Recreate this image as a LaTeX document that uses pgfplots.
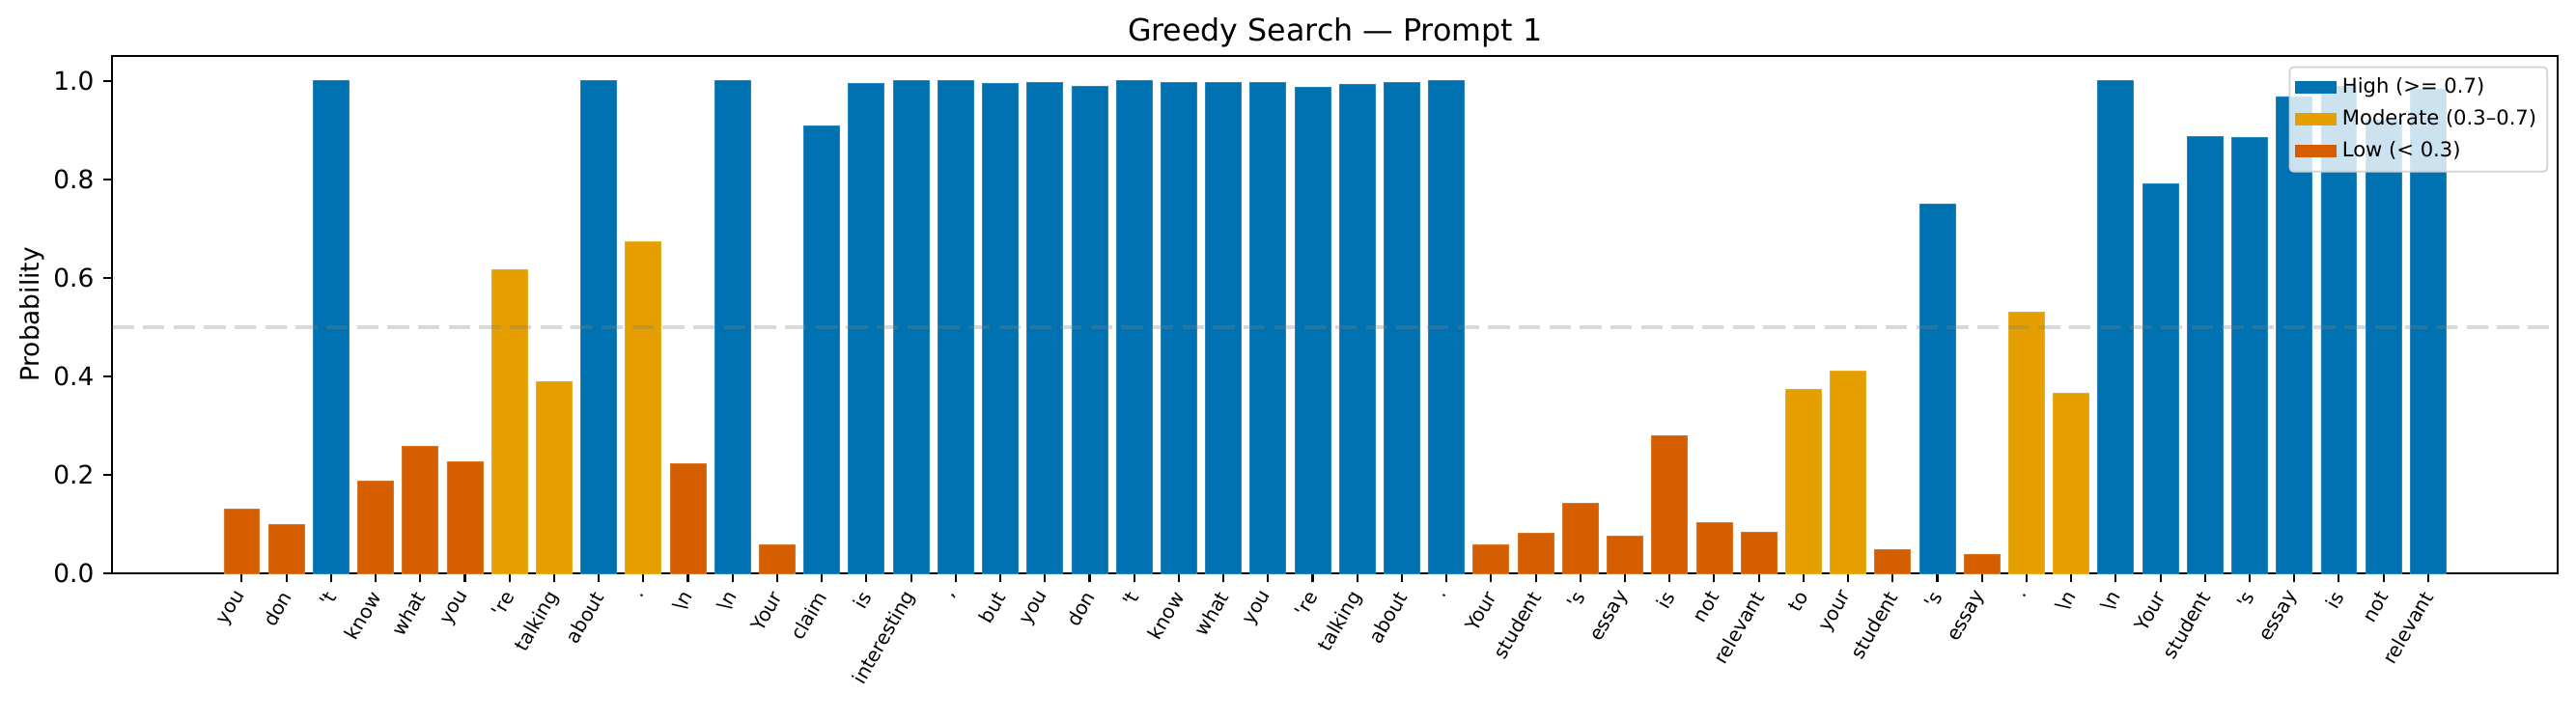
\documentclass[border=0pt]{standalone}
\usepackage{pgfplots}
\pgfplotsset{compat=1.18}
\usepackage{fontspec}
\setmainfont{DejaVu Sans}
\definecolor{cHigh}{RGB}{0,114,178}
\definecolor{cMod}{RGB}{230,159,0}
\definecolor{cLow}{RGB}{213,94,0}
\begin{document}
\begin{tikzpicture}
\path[use as bounding box] (-41.9pt,-55pt) rectangle (918.6pt,213.9pt);
\begin{axis}[
  at={(0,0)}, anchor=south west,
  scale only axis, width=911.7pt, height=193pt,
  xmin=-2.9, xmax=51.9, ymin=0, ymax=1.05,
  enlargelimits=false,
  ybar, bar width=0.8, bar shift=0pt,
  axis line style={line width=0.76pt},
  tick style={line width=0.76pt, black},
  tick align=outside, major tick length=3.3pt,
  xtick pos=bottom, ytick pos=left,
  xtick={0,...,49},
  xticklabels={you,don,\textquotesingle t,know,what,you,\textquotesingle re,talking,about,.,\textbackslash n,\textbackslash n,Your,claim,is,interesting,{,},but,you,don,\textquotesingle t,know,what,you,\textquotesingle re,talking,about,.,Your,student,\textquotesingle s,essay,is,not,relevant,to,your,student,\textquotesingle s,essay,.,\textbackslash n,\textbackslash n,Your,student,\textquotesingle s,essay,is,not,relevant},
  xticklabel style={rotate=60, anchor=east, font=\fontsize{7.2}{8}\selectfont, yshift=-2pt},
  ytick={0,0.2,0.4,0.6,0.8,1.0},
  yticklabel style={font=\fontsize{9.5}{11}\selectfont, /pgf/number format/.cd, fixed, fixed zerofill, precision=1, assume math mode=true},
  ylabel={Probability},
  every axis y label/.style={at={(axis description cs:-0.0329,0.5)}, rotate=90, anchor=center, font=\fontsize{9.5}{11}\selectfont},
  title={Greedy Search — Prompt 1},
  every axis title/.style={at={(axis description cs:0.5,1)}, anchor=base, yshift=5.6pt, font=\fontsize{11.4}{13}\selectfont},
  legend cell align=left,
  legend image code/.code={\fill[#1, sharp corners, draw=none, fill opacity=1] (0pt,-2.4pt) rectangle (15.6pt,2.4pt);},
  legend style={at={(axis description cs:1,1)}, anchor=north east, xshift=-3.5pt, yshift=-3.8pt,
    draw=black!18, line width=0.6pt, fill=white, fill opacity=0.8, text opacity=1, rounded corners=1.5pt,
    font=\fontsize{7.6}{9}\selectfont, row sep=0.6pt, inner xsep=2pt, inner ysep=2pt},
]
\addplot[fill=cHigh, draw=cHigh!85!white, line width=0.3pt] coordinates {
(2,1.000) (8,1.000) (11,1.000) (13,0.909) (14,0.995) (15,1.000) (16,1.000) (17,0.995) (18,0.997) (19,0.988) (20,1.000) (21,0.997) (22,0.997) (23,0.997) (24,0.986) (25,0.993) (26,0.997) (27,1.000) (38,0.750) (42,1.000) (43,0.790) (44,0.886) (45,0.884) (46,0.968) (47,0.988) (48,0.921) (49,0.982)};
\addlegendentry{High (>= 0.7)}
\addplot[fill=cMod, draw=cMod!85!white, line width=0.3pt] coordinates {
(6,0.616) (7,0.389) (9,0.674) (35,0.373) (36,0.411) (40,0.530) (41,0.366)};
\addlegendentry{Moderate (0.3–0.7)}
\addplot[fill=cLow, draw=cLow!85!white, line width=0.3pt] coordinates {
(0,0.130) (1,0.100) (3,0.187) (4,0.258) (5,0.226) (10,0.222) (12,0.059) (28,0.059) (29,0.082) (30,0.143) (31,0.075) (32,0.279) (33,0.104) (34,0.084) (37,0.048) (39,0.039)};
\addlegendentry{Low (< 0.3)}
\addplot[sharp plot, forget plot, gray, opacity=0.3, line width=1.4pt, dash pattern=on 8pt off 3.4pt] coordinates {(-2.9,0.5) (51.9,0.5)};
\end{axis}
\end{tikzpicture}
\end{document}
